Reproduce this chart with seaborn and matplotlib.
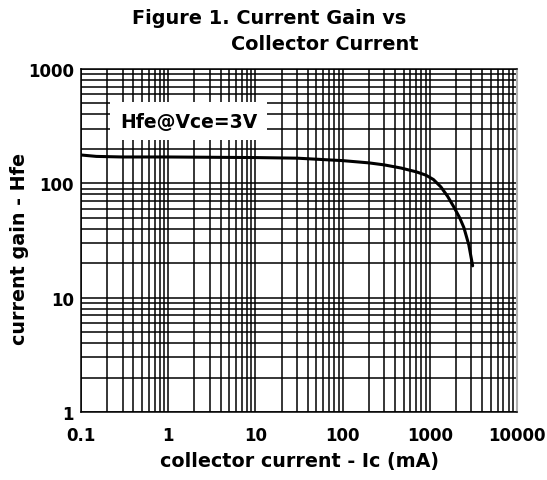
import seaborn as sns
import matplotlib.pyplot as plt
import matplotlib.ticker as mticker
import pandas as pd
import numpy as np

# collector current (mA) vs current gain
ic_ma = [0.1, 0.15, 0.3, 1, 10, 30, 100, 200, 300, 470, 700, 900, 1100, 1340, 1600, 1890, 2200, 2460, 2800, 3100]
hfe = [177, 172, 170, 170, 168, 166, 158, 151, 145, 136, 126, 118, 108, 93, 77, 62, 50, 41, 29, 19]

x_ticks = [0.1, 1, 10, 100, 1000, 10000]
x_tick_labels = ["0.1", "1", "10", "100", "1000", "10000"]
y_ticks = [1, 10, 100, 1000]
y_tick_labels = ["1", "10", "100", "1000"]


def main():
    sns.set_style("white")
    plt.rcParams["font.family"] = ["DejaVu Sans"]
    plt.rcParams["font.weight"] = "bold"
    plt.rcParams["text.color"] = "black"
    plt.rcParams["axes.labelcolor"] = "black"
    plt.rcParams["xtick.color"] = "black"
    plt.rcParams["ytick.color"] = "black"

    df = pd.DataFrame({"ic": ic_ma, "hfe": hfe})

    fig = plt.figure(figsize=(5.47, 4.81), dpi=100)
    ax = fig.add_axes([81 / 547, 68 / 481, 436 / 547, 343 / 481])
    ax.set(xscale="log", yscale="log")

    sns.lineplot(data=df, x="ic", y="hfe", ax=ax, color="black", linewidth=2.2,
                 solid_capstyle="round", solid_joinstyle="round", zorder=5)

    ax.set_xlim(0.1, 10000)
    ax.set_ylim(1, 1000)
    ax.xaxis.set_major_locator(mticker.FixedLocator(x_ticks))
    ax.yaxis.set_major_locator(mticker.FixedLocator(y_ticks))
    ax.xaxis.set_minor_locator(mticker.LogLocator(base=10, subs=np.arange(2, 10)))
    ax.yaxis.set_minor_locator(mticker.LogLocator(base=10, subs=np.arange(2, 10)))
    ax.xaxis.set_minor_formatter(mticker.NullFormatter())
    ax.yaxis.set_minor_formatter(mticker.NullFormatter())
    ax.set_xticklabels(x_tick_labels)
    ax.set_yticklabels(y_tick_labels)
    ax.tick_params(which="both", length=0, labelsize=12, colors="black")
    ax.tick_params(axis="x", pad=10)
    ax.tick_params(axis="y", pad=5)
    for lab in ax.get_xticklabels() + ax.get_yticklabels():
        lab.set_fontweight("bold")

    ax.grid(True, which="both", color="black", linewidth=1.1)
    for side in ["left", "bottom", "top"]:
        ax.spines[side].set_color("black")
        ax.spines[side].set_linewidth(1.1)
    ax.spines["right"].set_color("#b0b0b0")
    ax.spines["right"].set_linewidth(1.5)

    ax.set_xlabel("collector current - Ic (mA)", fontsize=13.8, fontweight="bold", labelpad=5)
    ax.set_ylabel("")
    fig.text(20 / 547, 1 - 249 / 481, "current gain - Hfe", fontsize=13.8,
             fontweight="bold", rotation=90, ha="center", va="center")

    ax.text(0.28, 350, "Hfe@Vce=3V", fontsize=13.5, fontweight="bold",
            va="center", ha="left", zorder=6,
            bbox=dict(facecolor="white", edgecolor="none", pad=7))

    fig.text(269 / 547, 1 - 18 / 481, "Figure 1. Current Gain vs", fontsize=13.9,
             fontweight="bold", ha="center", va="center")
    fig.text(325 / 547, 1 - 45 / 481, "Collector Current", fontsize=13.9,
             fontweight="bold", ha="center", va="center")

    fig.savefig("out.png", dpi=100)


if __name__ == '__main__':
    main()
